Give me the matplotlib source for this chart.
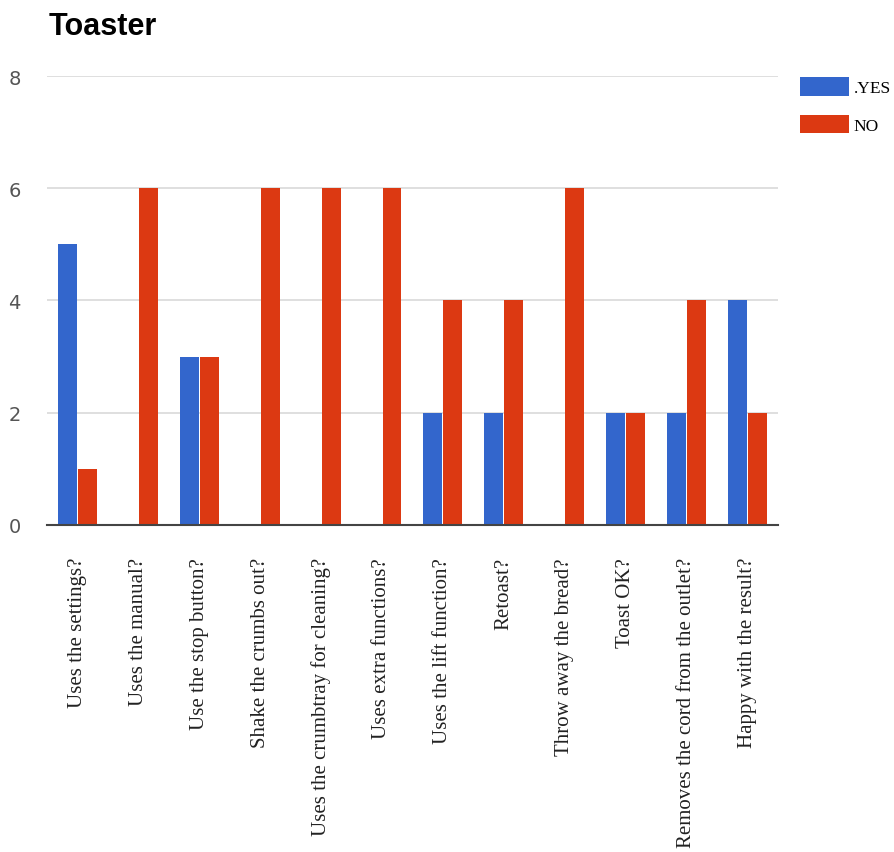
import matplotlib.pyplot as plt
import numpy as np

questions = [
    "Uses the settings?", "Uses the manual?", "Use the stop button?",
    "Shake the crumbs out?", "Uses the crumbtray for cleaning?",
    "Uses extra functions?", "Uses the lift function?", "Retoast?",
    "Throw away the bread?", "Toast OK?", "Removes the cord from the outlet?",
    "Happy with the result?",
]
yes_counts = [5, 0, 3, 0, 0, 0, 2, 2, 0, 2, 2, 4]
no_counts = [1, 6, 3, 6, 6, 6, 4, 4, 6, 2, 4, 2]
series_names = [".YES", "NO"]

BLUE = "#3366CC"
RED = "#DC3912"

fig = plt.figure(figsize=(8.95, 8.53), dpi=100)
ax = fig.add_axes([0.0525, 0.3834, 0.8165, 0.5263])

x = np.arange(len(questions))
w = 0.31
ax.bar(x - 0.165, yes_counts, w, color=BLUE, label=series_names[0], zorder=3)
ax.bar(x + 0.165, no_counts, w, color=RED, label=series_names[1], zorder=3)

ax.set_xlim(-0.5, len(questions) - 0.5)
ax.set_ylim(0, 8)
ax.set_yticks([0, 2, 4, 6, 8])
ax.yaxis.grid(True, color="#d9d9d9", linewidth=1.2, zorder=0)
ax.tick_params(axis="y", length=0, pad=19, labelsize=14, labelcolor="#555555")
ax.tick_params(axis="x", length=0, pad=23)
for s in ["top", "right", "left"]:
    ax.spines[s].set_visible(False)
ax.spines["bottom"].set_color("#444444")
ax.spines["bottom"].set_linewidth(1.5)
ax.spines["bottom"].set_zorder(4)

ax.set_xticks(x)
ax.set_xticklabels(questions, rotation=90, ha="center", va="top",
                   family="Liberation Serif", fontsize=15, color="#222222")

fig.text(0.054, 0.968, "Toaster", fontsize=22, fontweight="bold",
         family="Liberation Sans", va="center", ha="left")

fig.legend(loc="upper left", bbox_to_anchor=(800 / 895, 1 - 78 / 853),
           frameon=False, borderpad=0, borderaxespad=0,
           prop={"family": "Liberation Serif", "size": 12.5},
           handlelength=2.8, handleheight=1.3, labelspacing=1.05,
           handletextpad=0.3)

plt.savefig("out.png")
plt.close()
